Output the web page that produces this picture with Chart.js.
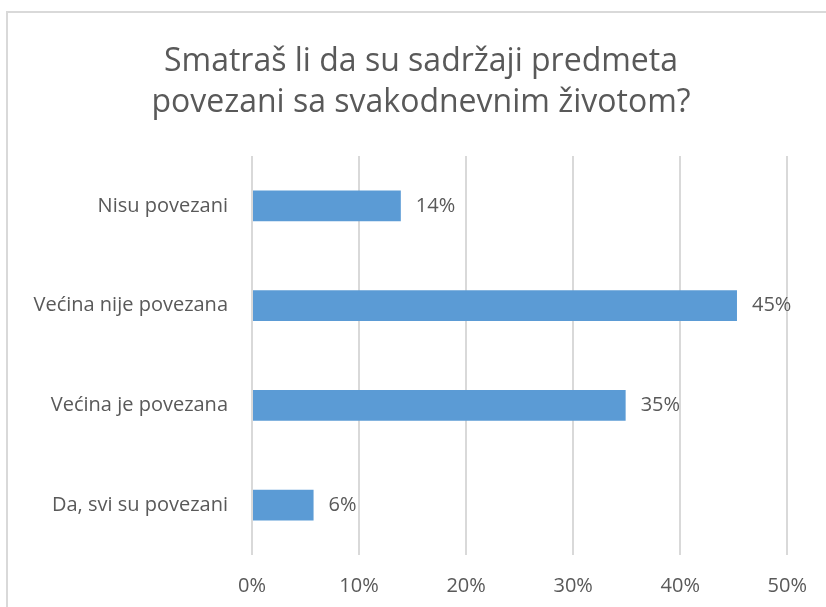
<!DOCTYPE html>
<html lang="sr">
<head>
    <meta charset="UTF-8">
    <title>Smatraš li da su sadržaji predmeta povezani sa svakodnevnim životom?</title>
    <script src="https://cdn.jsdelivr.net/npm/chart.js"></script>
    <style>
        body { margin: 0; background: #fff; font-family: "Open Sans", sans-serif; }
        .frame { position: absolute; left: 6px; top: 11px; width: 900px; height: 700px;
                 border-left: 2px solid #d9d9d9; border-top: 2px solid #d9d9d9; }
        canvas { position: absolute; left: 0; top: 0; }
    </style>
</head>
<body>
    <div class="frame"></div>
    <canvas id="myChart" width="826" height="607"></canvas>

    <script>
        // data
        const titleLines = ['Smatraš li da su sadržaji predmeta', 'povezani sa svakodnevnim životom?'];
        const categories = ['Nisu povezani', 'Većina nije povezana', 'Većina je povezana', 'Da, svi su povezani'];
        const shares = [13.9, 45.3, 34.9, 5.75];
        const tickMin = 0;
        const tickMax = 50;
        const tickStep = 10;

        const textColor = '#595959';
        const fontFamily = '"Open Sans", sans-serif';

        const barLabels = {
            id: 'barLabels',
            afterDatasetsDraw(chart) {
                const ctx = chart.ctx;
                const meta = chart.getDatasetMeta(0);
                ctx.save();
                ctx.font = '20px ' + fontFamily;
                ctx.fillStyle = textColor;
                ctx.textAlign = 'left';
                ctx.textBaseline = 'middle';
                meta.data.forEach((bar, i) => {
                    ctx.fillText(Math.round(shares[i]) + '%', bar.x + 15, bar.y);
                });
                ctx.restore();
            }
        };

        new Chart(document.getElementById('myChart'), {
            type: 'bar',
            data: {
                labels: categories,
                datasets: [{
                    data: shares,
                    backgroundColor: '#5b9bd5',
                    borderWidth: 0,
                    categoryPercentage: 1,
                    barPercentage: 0.31
                }]
            },
            options: {
                indexAxis: 'y',
                responsive: false,
                animation: false,
                layout: { padding: { top: 0, right: 0, bottom: 0, left: 16 } },
                scales: {
                    x: {
                        position: 'bottom',
                        min: tickMin,
                        max: tickMax,
                        grid: { color: '#d9d9d9', lineWidth: 2, drawTicks: false },
                        border: { display: false },
                        ticks: {
                            stepSize: tickStep,
                            padding: 19,
                            color: textColor,
                            font: { family: fontFamily, size: 20 },
                            callback: v => v + '%'
                        },
                        afterFit: s => { s.height = 52; }
                    },
                    y: {
                        grid: { display: false, drawTicks: false },
                        border: { display: false },
                        ticks: {
                            padding: 24,
                            color: textColor,
                            font: { family: fontFamily, size: 20 }
                        },
                        afterFit: s => { s.width = 236; }
                    },
                    // empty right-hand box, keeps the 50% line off the edge
                    yRight: {
                        type: 'category',
                        position: 'right',
                        grid: { display: false, drawTicks: false },
                        border: { display: false },
                        ticks: { display: false },
                        afterFit: s => { s.width = 37; }
                    }
                },
                plugins: {
                    legend: { display: false },
                    tooltip: { enabled: false },
                    title: {
                        display: true,
                        text: titleLines,
                        color: textColor,
                        font: { family: fontFamily, size: 32, weight: 'normal', lineHeight: '41px' },
                        padding: { top: 41, bottom: 33 }
                    }
                }
            },
            plugins: [barLabels]
        });
    </script>
</body>
</html>
